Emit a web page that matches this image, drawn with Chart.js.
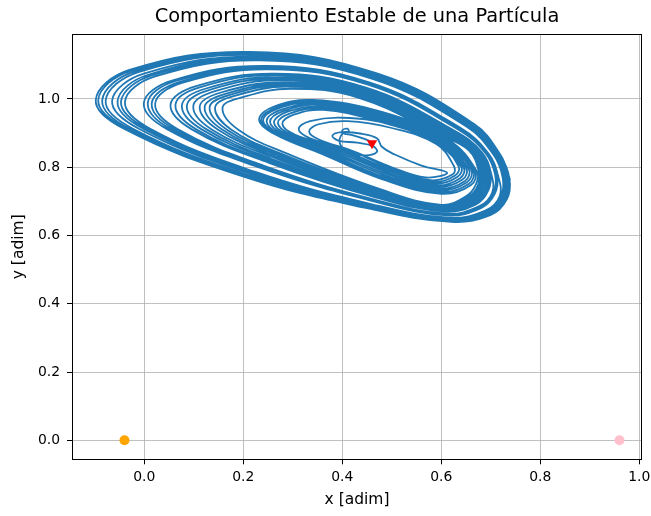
<!DOCTYPE html>
<html><head><meta charset="utf-8">
<script src="https://cdn.jsdelivr.net/npm/chart.js@4"></script>
<style>html,body{margin:0;padding:0;background:#fff;overflow:hidden}</style>
</head><body>
<canvas id="c" width="651" height="516"></canvas>
<script>
const titleText = 'Comportamiento Estable de una Partícula';
const xLabel = 'x [adim]';
const yLabel = 'y [adim]';
const xTicks = [0.0, 0.2, 0.4, 0.6, 0.8, 1.0];
const yTicks = [0.0, 0.2, 0.4, 0.6, 0.8, 1.0];
const xRange = [-0.146, 1.0055];
const yRange = [-0.0557, 1.1896];

// trajectory, traced loop by loop (x, y pairs)
const bigLoops = [
  [[0.739,0.763],[0.720,0.835],[0.665,0.928],[0.470,1.075],[0.214,1.138],[-0.030,1.085],[-0.098,0.997],[-0.040,0.912],[0.204,0.771],[0.450,0.680],[0.620,0.640],[0.700,0.660],[0.732,0.705]],
  [[0.738,0.764],[0.719,0.835],[0.664,0.927],[0.469,1.074],[0.216,1.136],[-0.026,1.083],[-0.093,0.997],[-0.035,0.912],[0.206,0.772],[0.451,0.681],[0.620,0.641],[0.699,0.661],[0.731,0.706]],
  [[0.736,0.764],[0.717,0.836],[0.662,0.926],[0.468,1.071],[0.218,1.133],[-0.019,1.081],[-0.085,0.996],[-0.029,0.912],[0.208,0.775],[0.451,0.683],[0.619,0.643],[0.698,0.663],[0.729,0.707]],
  [[0.734,0.765],[0.715,0.836],[0.660,0.925],[0.467,1.069],[0.220,1.129],[-0.012,1.079],[-0.078,0.995],[-0.022,0.912],[0.210,0.777],[0.452,0.684],[0.618,0.644],[0.696,0.664],[0.727,0.709]],
  [[0.731,0.767],[0.712,0.837],[0.657,0.923],[0.465,1.066],[0.225,1.124],[-0.001,1.074],[-0.065,0.994],[-0.010,0.912],[0.215,0.780],[0.454,0.687],[0.617,0.647],[0.694,0.667],[0.724,0.711]],
  [[0.728,0.768],[0.709,0.838],[0.654,0.922],[0.464,1.063],[0.228,1.120],[0.008,1.071],[-0.054,0.993],[-0.001,0.912],[0.218,0.783],[0.455,0.689],[0.617,0.649],[0.692,0.669],[0.721,0.713]],
  [[0.726,0.769],[0.707,0.838],[0.652,0.921],[0.462,1.061],[0.230,1.116],[0.015,1.069],[-0.047,0.992],[0.006,0.912],[0.220,0.785],[0.456,0.691],[0.616,0.650],[0.690,0.671],[0.720,0.714]],
  [[0.724,0.770],[0.705,0.838],[0.650,0.920],[0.461,1.059],[0.233,1.113],[0.022,1.066],[-0.039,0.992],[0.013,0.912],[0.223,0.787],[0.456,0.693],[0.615,0.652],[0.689,0.673],[0.718,0.715]],
  [[0.715,0.774],[0.695,0.841],[0.640,0.914],[0.456,1.048],[0.245,1.097],[0.056,1.054],[-0.001,0.988],[0.047,0.911],[0.235,0.798],[0.461,0.701],[0.612,0.659],[0.681,0.681],[0.708,0.722]],
  [[0.713,0.775],[0.693,0.841],[0.638,0.913],[0.454,1.046],[0.247,1.094],[0.062,1.052],[0.007,0.988],[0.054,0.911],[0.237,0.800],[0.461,0.703],[0.612,0.661],[0.680,0.683],[0.707,0.723]],
  [[0.711,0.776],[0.691,0.842],[0.636,0.912],[0.453,1.044],[0.250,1.090],[0.069,1.049],[0.015,0.987],[0.061,0.911],[0.240,0.802],[0.462,0.704],[0.611,0.662],[0.678,0.684],[0.705,0.725]],
  [[0.709,0.777],[0.689,0.842],[0.634,0.911],[0.452,1.042],[0.252,1.087],[0.076,1.047],[0.022,0.986],[0.068,0.911],[0.242,0.804],[0.463,0.706],[0.611,0.664],[0.677,0.686],[0.703,0.726]],
  [[0.701,0.780],[0.682,0.844],[0.627,0.907],[0.448,1.033],[0.262,1.074],[0.103,1.037],[0.053,0.983],[0.096,0.911],[0.252,0.813],[0.467,0.712],[0.608,0.670],[0.671,0.692],[0.695,0.732]],
  [[0.699,0.781],[0.679,0.844],[0.624,0.905],[0.446,1.030],[0.265,1.070],[0.112,1.034],[0.063,0.983],[0.105,0.911],[0.255,0.816],[0.468,0.715],[0.607,0.672],[0.669,0.695],[0.693,0.733]],
  [[0.695,0.783],[0.676,0.845],[0.621,0.904],[0.444,1.027],[0.269,1.065],[0.123,1.030],[0.076,0.981],[0.116,0.911],[0.259,0.819],[0.469,0.717],[0.606,0.674],[0.666,0.697],[0.690,0.736]],
  [[0.693,0.784],[0.673,0.846],[0.618,0.902],[0.443,1.024],[0.272,1.060],[0.132,1.027],[0.086,0.980],[0.126,0.911],[0.262,0.822],[0.470,0.720],[0.606,0.676],[0.664,0.700],[0.687,0.737]],
  [[0.690,0.785],[0.670,0.847],[0.615,0.900],[0.441,1.020],[0.276,1.055],[0.143,1.023],[0.099,0.979],[0.137,0.910],[0.266,0.826],[0.472,0.722],[0.605,0.679],[0.662,0.702],[0.684,0.740]],
  [[0.687,0.787],[0.667,0.847],[0.612,0.898],[0.439,1.017],[0.280,1.049],[0.155,1.019],[0.112,0.978],[0.149,0.910],[0.270,0.829],[0.473,0.725],[0.604,0.681],[0.659,0.705],[0.681,0.742]],
  [[0.684,0.788],[0.664,0.848],[0.609,0.897],[0.437,1.014],[0.284,1.045],[0.164,1.015],[0.122,0.977],[0.158,0.910],[0.274,0.832],[0.474,0.727],[0.603,0.683],[0.657,0.707],[0.679,0.744]],
  [[0.681,0.789],[0.662,0.849],[0.607,0.896],[0.436,1.011],[0.287,1.041],[0.173,1.012],[0.132,0.976],[0.167,0.910],[0.277,0.835],[0.475,0.730],[0.602,0.685],[0.655,0.710],[0.676,0.746]],
  [[0.679,0.790],[0.659,0.849],[0.604,0.894],[0.434,1.008],[0.290,1.036],[0.182,1.009],[0.143,0.975],[0.176,0.910],[0.280,0.838],[0.476,0.732],[0.601,0.687],[0.653,0.712],[0.674,0.747]],
  [[0.675,0.792],[0.655,0.850],[0.600,0.892],[0.432,1.004],[0.295,1.030],[0.195,1.004],[0.158,0.974],[0.190,0.910],[0.285,0.842],[0.478,0.735],[0.600,0.690],[0.650,0.715],[0.670,0.750]]
];
const innerLoops = [
  [[0.672,0.788],[0.615,0.880],[0.480,0.962],[0.340,0.997],[0.262,0.978],[0.232,0.940],[0.262,0.898],[0.360,0.838],[0.480,0.765],[0.600,0.722],[0.660,0.748]],
  [[0.668,0.790],[0.610,0.880],[0.478,0.958],[0.342,0.994],[0.266,0.975],[0.236,0.938],[0.266,0.897],[0.364,0.840],[0.483,0.768],[0.598,0.727],[0.656,0.752]],
  [[0.664,0.792],[0.605,0.880],[0.475,0.955],[0.345,0.990],[0.270,0.972],[0.240,0.937],[0.270,0.897],[0.368,0.842],[0.486,0.771],[0.596,0.732],[0.652,0.756]],
  [[0.660,0.794],[0.600,0.880],[0.472,0.951],[0.348,0.986],[0.276,0.968],[0.247,0.935],[0.276,0.896],[0.372,0.845],[0.489,0.775],[0.594,0.737],[0.648,0.760]],
  [[0.655,0.796],[0.595,0.880],[0.470,0.948],[0.350,0.982],[0.282,0.965],[0.254,0.933],[0.282,0.896],[0.375,0.848],[0.492,0.779],[0.592,0.742],[0.643,0.764]],
  [[0.650,0.798],[0.590,0.880],[0.468,0.945],[0.354,0.977],[0.288,0.962],[0.262,0.931],[0.289,0.896],[0.380,0.851],[0.495,0.783],[0.590,0.747],[0.638,0.768]],
  [[0.645,0.800],[0.585,0.880],[0.466,0.942],[0.358,0.973],[0.295,0.958],[0.270,0.930],[0.296,0.896],[0.385,0.854],[0.498,0.787],[0.588,0.752],[0.633,0.772]],
  [[0.640,0.802],[0.580,0.879],[0.464,0.938],[0.362,0.968],[0.302,0.954],[0.279,0.927],[0.304,0.896],[0.390,0.857],[0.500,0.791],[0.585,0.757],[0.628,0.776]],
  [[0.635,0.803],[0.595,0.870],[0.500,0.925],[0.400,0.945],[0.335,0.935],[0.312,0.912],[0.335,0.885],[0.410,0.852],[0.500,0.796],[0.578,0.762],[0.624,0.780]],
  [[0.625,0.805],[0.590,0.868],[0.500,0.915],[0.410,0.935],[0.352,0.926],[0.333,0.905],[0.352,0.882],[0.420,0.848],[0.500,0.800],[0.568,0.770],[0.612,0.784]]
];
const corePath = [[0.560,0.805],[0.505,0.838],[0.480,0.860],[0.470,0.885],[0.440,0.898],[0.400,0.903],[0.380,0.893],[0.392,0.878],[0.430,0.872],[0.462,0.862],[0.470,0.845],[0.445,0.835],[0.410,0.848],[0.395,0.870],[0.400,0.898],[0.413,0.905],[0.410,0.913],[0.400,0.908],[0.404,0.898],[0.418,0.895],[0.450,0.880],[0.460,0.870]];

const orangePoint = [-0.04, 0.0];
const pinkPoint = [0.96, 0.0];
const particlePoint = [0.46, 0.87];

const toXY = p => ({x: p[0], y: p[1]});
const trajectory = [];
bigLoops.forEach(l => l.forEach(p => trajectory.push(toXY(p))));
innerLoops.forEach(l => l.forEach(p => trajectory.push(toXY(p))));
corePath.forEach(p => trajectory.push(toXY(p)));

Chart.defaults.font.family = "'DejaVu Sans', sans-serif";
Chart.defaults.color = '#000';

const frame = {
  id: 'frame',
  afterDatasetsDraw(chart) {
    const {ctx, chartArea: a} = chart;
    ctx.save();
    ctx.strokeStyle = '#000';
    ctx.lineWidth = 1;
    ctx.strokeRect(Math.round(a.left) + 0.5, Math.round(a.top) + 0.5, Math.round(a.right - a.left) - 1, Math.round(a.bottom - a.top));
    ctx.restore();
  }
};

new Chart(document.getElementById('c'), {
  type: 'scatter',
  data: {
    datasets: [
      {data: [toXY(particlePoint)], pointStyle: 'triangle', rotation: 180, pointRadius: 6, backgroundColor: '#ff0000', borderColor: '#ff0000', borderWidth: 0, order: 0},
      {data: [toXY(orangePoint)], pointRadius: 5, backgroundColor: '#ffa500', borderColor: '#ffa500', borderWidth: 0, order: 0},
      {data: [toXY(pinkPoint)], pointRadius: 5, backgroundColor: '#ffc0cb', borderColor: '#ffc0cb', borderWidth: 0, order: 0},
      {data: trajectory, showLine: true, pointRadius: 0, borderColor: '#1f77b4', borderWidth: 1.8, tension: 0.4, fill: false, order: 1}
    ]
  },
  options: {
    responsive: false,
    animation: false,
    devicePixelRatio: 1,
    layout: {padding: {left: 0, right: 9, top: 0, bottom: 0}},
    plugins: {
      legend: {display: false},
      tooltip: {enabled: false},
      title: {display: true, fullSize: false, text: titleText, font: {size: 19.4, weight: 'normal'}, color: '#000', padding: {top: 5.4, bottom: 5.6}}
    },
    scales: {
      x: {
        type: 'linear', min: xRange[0], max: xRange[1],
        afterBuildTicks: s => { s.ticks = xTicks.map(v => ({value: v})); },
        afterFit: s => { s.height = 56.7; s.paddingLeft = 0; s.paddingRight = 0; },
        ticks: {callback: v => v.toFixed(1), font: {size: 13.9}, padding: 5, maxRotation: 0, autoSkip: false},
        grid: {color: '#b0b0b0', lineWidth: 0.8, drawTicks: true, tickLength: 5, tickColor: '#000', tickWidth: 1},
        border: {display: false},
        title: {display: true, text: xLabel, font: {size: 15.5}, padding: {top: 0, bottom: 6.7}}
      },
      y: {
        type: 'linear', min: yRange[0], max: yRange[1],
        afterBuildTicks: s => { s.ticks = yTicks.map(v => ({value: v})); },
        afterFit: s => { s.width = 72; },
        ticks: {callback: v => v.toFixed(1), font: {size: 13.9}, padding: 7, autoSkip: false},
        grid: {color: '#b0b0b0', lineWidth: 0.8, drawTicks: true, tickLength: 5, tickColor: '#000', tickWidth: 1},
        border: {display: false},
        title: {display: true, text: yLabel, font: {size: 15.5}, padding: {top: 9.7, bottom: 0}}
      }
    }
  },
  plugins: [frame]
});
</script>
</body></html>
